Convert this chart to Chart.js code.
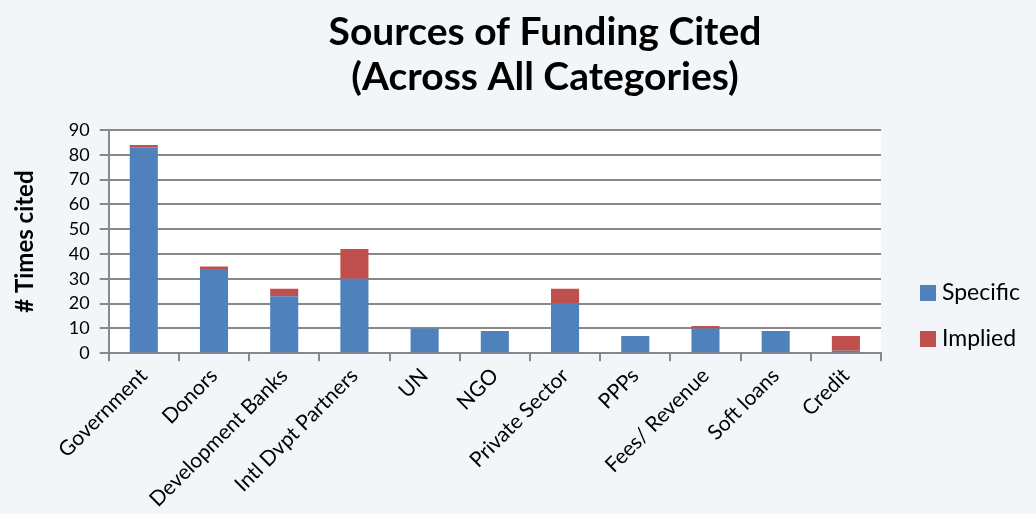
<!DOCTYPE html>
<html>
<head>
<meta charset="utf-8">
<script src="https://cdn.jsdelivr.net/npm/chart.js@4"></script>
<style>
html,body{margin:0;padding:0;background:#f3f6f9;}
#wrap{width:1036px;height:514px;}
</style>
</head>
<body>
<div id="wrap"><canvas id="c" width="1036" height="514"></canvas></div>
<script>
const categories = ["Government","Donors","Development Banks","Intl Dvpt Partners","UN","NGO","Private Sector","PPPs","Fees/ Revenue","Soft loans","Credit"];
const specific = [83,34,23,30,10,9,20,7,10,9,1];
const implied = [1,1,3,12,0,0,6,0,1,0,6];
const yTicks = [0,10,20,30,40,50,60,70,80,90];
const titleLines = ['Sources of Funding Cited','(Across All Categories)'];

const bgPlugin = {
  id:'bg',
  beforeDraw(chart){
    const {ctx, chartArea:a} = chart;
    ctx.save();
    ctx.fillStyle = '#f3f6f9';
    ctx.fillRect(0,0,chart.width,chart.height);
    ctx.fillStyle = '#ffffff';
    ctx.fillRect(a.left,a.top,a.right-a.left,a.bottom-a.top);
    ctx.restore();
  }
};

const titlePlugin = {
  id:'topTitle',
  afterDraw(chart){
    const {ctx} = chart;
    ctx.save();
    ctx.font = 'bold 39px Lato';
    ctx.fillStyle = '#000';
    ctx.textAlign = 'center';
    ctx.textBaseline = 'middle';
    titleLines.forEach((t,i)=>ctx.fillText(t, 545, 32 + i*45));
    ctx.restore();
  }
};

const legendPlugin = {
  id:'sideLegend',
  afterDraw(chart){
    const {ctx} = chart;
    const ds = chart.data.datasets;
    const x = 920, y0 = 293, gap = 46, box = 16;
    ctx.save();
    ctx.font = '23px Lato';
    ctx.textBaseline = 'middle';
    ctx.textAlign = 'left';
    ds.forEach((d,i)=>{
      const y = y0 + i*gap;
      ctx.fillStyle = d.backgroundColor;
      ctx.fillRect(x, y-box/2, box, box);
      ctx.fillStyle = '#000';
      ctx.fillText(d.label, x+box+6, y);
    });
    ctx.restore();
  }
};

new Chart(document.getElementById('c'), {
  type:'bar',
  data:{
    labels:categories,
    datasets:[
      {label:'Specific', data:specific, backgroundColor:'#4f81bd', barPercentage:0.4, categoryPercentage:1},
      {label:'Implied', data:implied, backgroundColor:'#c0504d', barPercentage:0.4, categoryPercentage:1}
    ]
  },
  options:{
    responsive:false,
    animation:false,
    devicePixelRatio:1,
    layout:{padding:{left:7,right:155,top:130,bottom:0}},
    plugins:{
      title:{display:false},
      legend:{display:false},
      tooltip:{enabled:false}
    },
    scales:{
      x:{stacked:true,
        grid:{offset:true, drawOnChartArea:false, color:'#888', lineWidth:2, tickLength:8},
        border:{color:'#888', width:2},
        ticks:{color:'#000', font:{family:'Lato', size:21}, minRotation:45, maxRotation:45, padding:2, autoSkip:false}},
      y:{stacked:true, min:0, max:90,
        afterBuildTicks(s){ s.ticks = yTicks.map(v=>({value:v})); },
        grid:{color:'#888', lineWidth:2, tickLength:9},
        border:{color:'#888', width:2},
        ticks:{color:'#000', font:{family:'Lato', size:18}, padding:10, autoSkip:false},
        title:{display:true, text:'# Times cited', color:'#000', font:{family:'Lato', size:24, weight:'bold'}, padding:{bottom:19}}}
    }
  },
  plugins:[bgPlugin, titlePlugin, legendPlugin]
});
</script>
</body>
</html>
